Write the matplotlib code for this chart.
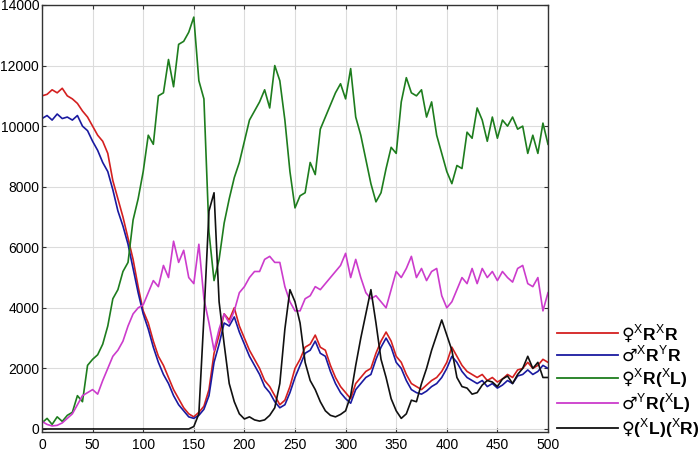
import matplotlib
matplotlib.use("Agg")
import matplotlib.pyplot as plt
import numpy as np

plt.rcParams['font.family'] = ['Liberation Sans', 'DejaVu Sans']
plt.rcParams['mathtext.fontset'] = 'custom'
plt.rcParams['mathtext.rm'] = 'Liberation Sans'
plt.rcParams['mathtext.bf'] = 'Liberation Sans:bold'

x = list(range(0, 501, 5))

red = [11000, 11050, 11200, 11100, 11250, 11000, 10900, 10750, 10500, 10300,
       10000, 9700, 9500, 9100, 8200, 7600, 7000, 6300, 5600, 4700,
       3900, 3500, 2900, 2400, 2100, 1700, 1300, 1000, 700, 500,
       400, 550, 750, 1300, 2500, 3100, 3800, 3600, 4000, 3400,
       3000, 2600, 2300, 2000, 1600, 1400, 1100, 800, 950, 1400,
       2000, 2300, 2700, 2800, 3100, 2700, 2600, 2100, 1700, 1400,
       1200, 1000, 1500, 1700, 1900, 2000, 2500, 2900, 3200, 2900,
       2400, 2200, 1800, 1500, 1400, 1300, 1450, 1600, 1700, 1900,
       2200, 2700, 2400, 2100, 1900, 1800, 1700, 1800, 1600, 1700,
       1550, 1650, 1800, 1700, 1950, 2000, 2200, 2000, 2100, 2300,
       2200]

blue = [10250, 10350, 10200, 10400, 10250, 10300, 10200, 10350, 10000, 9850,
        9500, 9200, 8800, 8500, 7900, 7200, 6700, 6100, 5300, 4500,
        3800, 3300, 2700, 2200, 1800, 1500, 1100, 800, 600, 400,
        350, 450, 650, 1100, 2200, 2800, 3500, 3400, 3700, 3200,
        2800, 2400, 2100, 1800, 1400, 1200, 900, 700, 800, 1200,
        1700, 2100, 2500, 2600, 2900, 2500, 2400, 1900, 1500, 1200,
        1000, 850, 1300, 1500, 1700, 1800, 2300, 2700, 3000, 2700,
        2200, 2000, 1600, 1300, 1200, 1150, 1250, 1400, 1500, 1700,
        2000, 2400, 2200, 1900, 1700, 1600, 1500, 1600, 1400, 1500,
        1350, 1450, 1600, 1500, 1750, 1800, 1950, 1800, 1900, 2100,
        2000]

green = [200, 350, 150, 400, 250, 450, 550, 1100, 900, 2100,
         2300, 2450, 2800, 3400, 4300, 4600, 5200, 5500, 6900, 7600,
         8500, 9700, 9400, 11000, 11100, 12200, 11300, 12700, 12800, 13100,
         13600, 11500, 10900, 6500, 4900, 5600, 6800, 7600, 8300, 8800,
         9500, 10200, 10500, 10800, 11200, 10600, 12000, 11500, 10200, 8500,
         7300, 7700, 7800, 8800, 8400, 9900, 10300, 10700, 11100, 11400,
         10900, 11900, 10300, 9700, 8900, 8100, 7500, 7800, 8600, 9300,
         9100, 10800, 11600, 11100, 11000, 11200, 10300, 10800, 9700, 9100,
         8500, 8100, 8700, 8600, 9800, 9600, 10600, 10200, 9500, 10300,
         9600, 10200, 10000, 10300, 9900, 10000, 9100, 9700, 9100, 10100,
         9400]

magenta = [250, 150, 100, 120, 200, 350, 500, 800, 1100, 1200,
           1300, 1150, 1600, 2000, 2400, 2600, 2900, 3400, 3800, 4000,
           4100, 4500, 4900, 4700, 5400, 5000, 6200, 5500, 5900, 5000,
           4800, 6100, 4300, 3500, 2600, 3300, 3800, 3500, 3900, 4500,
           4700, 5000, 5200, 5200, 5600, 5700, 5500, 5500, 4700, 4200,
           3900, 3900, 4300, 4400, 4700, 4600, 4800, 5000, 5200, 5400,
           5800, 5000, 5600, 5000, 4500, 4300, 4400, 4200, 4000, 4600,
           5200, 5000, 5300, 5700, 5000, 5300, 4900, 5200, 5300, 4400,
           4000, 4200, 4600, 5000, 4800, 5300, 4800, 5300, 5000, 5200,
           4900, 5200, 5000, 4850, 5300, 5400, 4800, 4700, 5000, 3900,
           4500]

black = [0, 0, 0, 0, 0, 0, 0, 0, 0, 0,
         0, 0, 0, 0, 0, 0, 0, 0, 0, 0,
         0, 0, 0, 0, 0, 0, 0, 0, 0, 0,
         80, 500, 3700, 7200, 7800, 4200, 2800, 1500, 900, 500,
         330, 400, 300, 260, 300, 450, 700, 1500, 3300, 4600,
         4200, 3500, 2200, 1600, 1300, 900, 600, 450, 400, 480,
         600, 1100, 2100, 3000, 3800, 4600, 3500, 2300, 1700, 1000,
         600, 350, 500, 950, 900, 1500, 2000, 2600, 3100, 3600,
         3100, 2600, 1700, 1400, 1350, 1150, 1200, 1450, 1600, 1550,
         1400, 1650, 1750, 1500, 1800, 2000, 2400, 2000, 2200, 1700,
         1700]

labels = [r'♀$^{\rm X}\mathbf{R}^{\rm X}\mathbf{R}$',
          r'♂$^{\rm X}\mathbf{R}^{\rm Y}\mathbf{R}$',
          r'♀$^{\rm X}\mathbf{R(}^{\rm X}\mathbf{L)}$',
          r'♂$^{\rm Y}\mathbf{R(}^{\rm X}\mathbf{L)}$',
          r'♀$\mathbf{(}^{\rm X}\mathbf{L)(}^{\rm X}\mathbf{R)}$']
colors = ['#d42020', '#1a1aa0', '#1e7d1e', '#cc3ccc', '#111111']
series = [red, blue, green, magenta, black]

fig = plt.figure(figsize=(7.0, 4.54), dpi=100)
ax = fig.add_axes([42/700, 1-432/454, (548-42)/700, (432-5)/454])

handles = []
for s, c, lab in zip(series, colors, labels):
    h, = ax.plot(x, s, color=c, lw=1.2, label=lab)
    handles.append(h)

ax.set_xlim(0, 500)
ax.set_ylim(-100, 14000)
ax.set_xticks(range(0, 501, 50))
ax.set_yticks(range(0, 14001, 2000))
ax.grid(True, color='#dcdcdc', lw=0.8)
ax.set_axisbelow(True)
ax.tick_params(direction='in', top=True, right=True, length=3, labelsize=10,
               color='#333333')
ax.tick_params(axis='y', pad=2)
ax.tick_params(axis='x', pad=4)
for sp in ax.spines.values():
    sp.set_color('#333333')
    sp.set_linewidth(1.0)

leg = fig.legend(handles=handles, labels=labels, loc='center left',
                 bbox_to_anchor=(557/700, 1-381/454), frameon=False,
                 prop={'family': ['DejaVu Sans'], 'size': 12.6},
                 handlelength=3.5, handletextpad=0.15,
                 labelspacing=0.08, borderpad=0, borderaxespad=0)
for l in leg.get_lines():
    l.set_linewidth(1.3)

fig.savefig('out.png', dpi=100)
